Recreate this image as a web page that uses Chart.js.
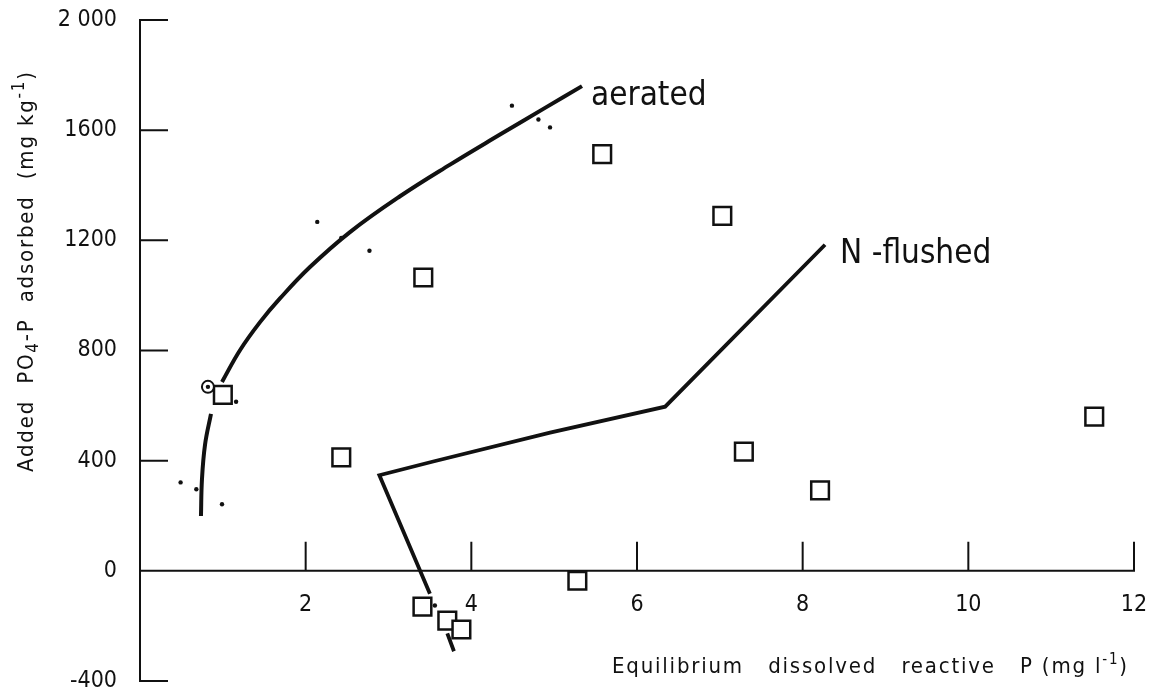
<!DOCTYPE html>
<html>
<head>
<meta charset="utf-8">
<script src="https://cdn.jsdelivr.net/npm/chart.js@4"></script>
<style>
  body { margin: 0; background: #fff; }
  #wrap { width: 1151px; height: 696px; }
</style>
</head>
<body>
<div id="wrap"><canvas id="c" width="1151" height="696"></canvas></div>
<script>
// values
const xTickStep = 2
const yTickStep = 400
const xRange = [0, 12]
const yRange = [-400, 2000]

// aerated curve (gap where it passes the circled point)
const aeratedLineX = [0.736, 0.748, 0.785, 0.857, 0.92, 0.990, 1.207, 1.449, 1.690, 2.052, 2.535, 3.139, 3.743, 4.346, 4.890, 5.336]
const aeratedLineY = [199, 332, 458, 570, null, 686, 801, 903, 989, 1103, 1230, 1360, 1475, 1584, 1681, 1760]

// N-flushed polyline (gap among the squares near the bottom)
const nFlushedX = [3.79, 3.71, 3.60, 3.50, 2.89, 3.54, 4.95, 6.34, 8.27]
const nFlushedY = [-292, -227, null, -83, 347, 397, 502, 596, 1184]

// open squares
const squaresX = [1.00, 2.43, 3.42, 5.58, 7.03, 7.29, 8.21, 11.52, 5.28, 3.41, 3.71, 3.88]
const squaresY = [639, 412, 1065, 1513, 1289, 433, 292, 560, -36, -130, -181, -213]

// small dots
const dotsX = [0.49, 0.68, 0.99, 1.16, 2.14, 2.43, 2.77, 4.49, 4.81, 4.95, 3.56, 0.82]
const dotsY = [321, 296, 242, 614, 1267, 1209, 1162, 1689, 1639, 1610, -126, 668]

// circled point
const circledX = [0.82]
const circledY = [668]

const FONT = '"DejaVu Sans Condensed", "Liberation Sans Narrow", "DejaVu Sans", sans-serif'
const INK = '#111'

const pts = (xs, ys) => xs.map((x, i) => ({x: x, y: ys[i]}))

// no extra room for label overflow, the layout padding does it
const noPad = s => { s.paddingTop = 0; s.paddingBottom = 0; s.paddingLeft = 0; s.paddingRight = 0 }

// axis lines with inward ticks + text labels
const framePlugin = {
    id: 'frame',
    beforeDatasetsDraw(chart) {
        const {ctx} = chart
        const x = chart.scales.x, y = chart.scales.y
        const x0 = x.getPixelForValue(0), y0 = y.getPixelForValue(0)
        ctx.save()
        ctx.strokeStyle = INK
        ctx.lineWidth = 2
        ctx.lineCap = 'square'
        ctx.beginPath()
        ctx.moveTo(x0, y.getPixelForValue(yRange[1]))
        ctx.lineTo(x0, y.getPixelForValue(yRange[0]))
        y.ticks.forEach(t => {
            const py = y.getPixelForValue(t.value)
            ctx.moveTo(x0, py)
            ctx.lineTo(x0 + 27, py)
        })
        ctx.moveTo(x0, y0)
        ctx.lineTo(x.getPixelForValue(xRange[1]), y0)
        x.ticks.forEach(t => {
            if (t.value === 0) return
            const px = x.getPixelForValue(t.value)
            ctx.moveTo(px, y0)
            ctx.lineTo(px, y0 - 28)
        })
        ctx.stroke()
        ctx.restore()
    },
    afterDraw(chart) {
        const {ctx} = chart
        const x = chart.scales.x, y = chart.scales.y
        ctx.save()
        ctx.fillStyle = INK
        ctx.textBaseline = 'alphabetic'
        ctx.textAlign = 'left'

        // curve names
        const la = aeratedLineX.length - 1
        ctx.font = '33px ' + FONT
        ctx.fillText('aerated', x.getPixelForValue(aeratedLineX[la]) + 9, y.getPixelForValue(aeratedLineY[la]) + 19)
        const ln = nFlushedX.length - 1
        ctx.fillText('N -flushed', x.getPixelForValue(nFlushedX[ln]) + 15, y.getPixelForValue(nFlushedY[ln]) + 18)

        // segments drawn one after another: [text, size, shift]
        const runs = (segs, px, py) => {
            let cx = px
            segs.forEach(s => {
                ctx.font = s[1] + 'px ' + FONT
                ctx.fillText(s[0], cx, py + s[2])
                cx += ctx.measureText(s[0]).width
            })
        }

        // x title
        ctx.letterSpacing = '1.8px'
        runs([['Equilibrium   dissolved   reactive   P (mg l', 22, 0], ['-1', 15, -9], [')', 22, 0]], 612, 673)

        // y title, rotated
        ctx.letterSpacing = '1.8px'
        ctx.translate(33, 472)
        ctx.rotate(-Math.PI / 2)
        runs([['Added  PO', 22, 0], ['4', 17, 5], ['-P  adsorbed  (mg kg', 22, 0], ['-1', 17, -9], [')', 22, 0]], 0, 0)
        ctx.restore()
    }
}

new Chart(document.getElementById('c'), {
    type: 'scatter',
    data: {
        datasets: [
            {
                data: pts(aeratedLineX, aeratedLineY),
                showLine: true, spanGaps: false,
                borderColor: INK, borderWidth: 4, tension: 0.4,
                pointRadius: 0, order: 4
            },
            {
                data: pts(nFlushedX, nFlushedY),
                showLine: true, spanGaps: false,
                borderColor: INK, borderWidth: 3.8, tension: 0,
                pointRadius: 0, order: 3
            },
            {
                data: pts(squaresX, squaresY),
                pointStyle: 'rect', pointRadius: 12.5,
                backgroundColor: '#fff', borderColor: INK, borderWidth: 2.5,
                order: 2
            },
            {
                data: pts(circledX, circledY),
                pointStyle: 'circle', pointRadius: 6,
                backgroundColor: '#fff', borderColor: INK, borderWidth: 2,
                order: 1
            },
            {
                data: pts(dotsX, dotsY),
                pointStyle: 'circle', pointRadius: 2.2,
                backgroundColor: INK, borderWidth: 0,
                order: 0
            }
        ]
    },
    options: {
        responsive: false,
        animation: false,
        layout: { padding: { top: 20, right: 17, bottom: 11, left: 0 } },
        plugins: { legend: { display: false }, tooltip: { enabled: false } },
        scales: {
            x: {
                type: 'linear',
                position: { y: 0 },
                min: xRange[0], max: xRange[1],
                afterFit: noPad,
                grid: { display: false, drawTicks: false },
                border: { display: false },
                ticks: {
                    stepSize: xTickStep, padding: 20, color: INK,
                    font: { size: 23, family: FONT },
                    maxRotation: 0,
                    callback: v => v === 0 ? '' : String(v)
                }
            },
            y: {
                type: 'linear',
                min: yRange[0], max: yRange[1],
                afterFit: s => { s.width = 140; noPad(s) },
                grid: { display: false, drawTicks: false },
                border: { display: false },
                ticks: {
                    stepSize: yTickStep, padding: 23, color: INK,
                    font: { size: 23, family: FONT },
                    callback: v => v === 2000 ? '2 000' : String(v)
                }
            }
        }
    },
    plugins: [framePlugin]
})
</script>
</body>
</html>
